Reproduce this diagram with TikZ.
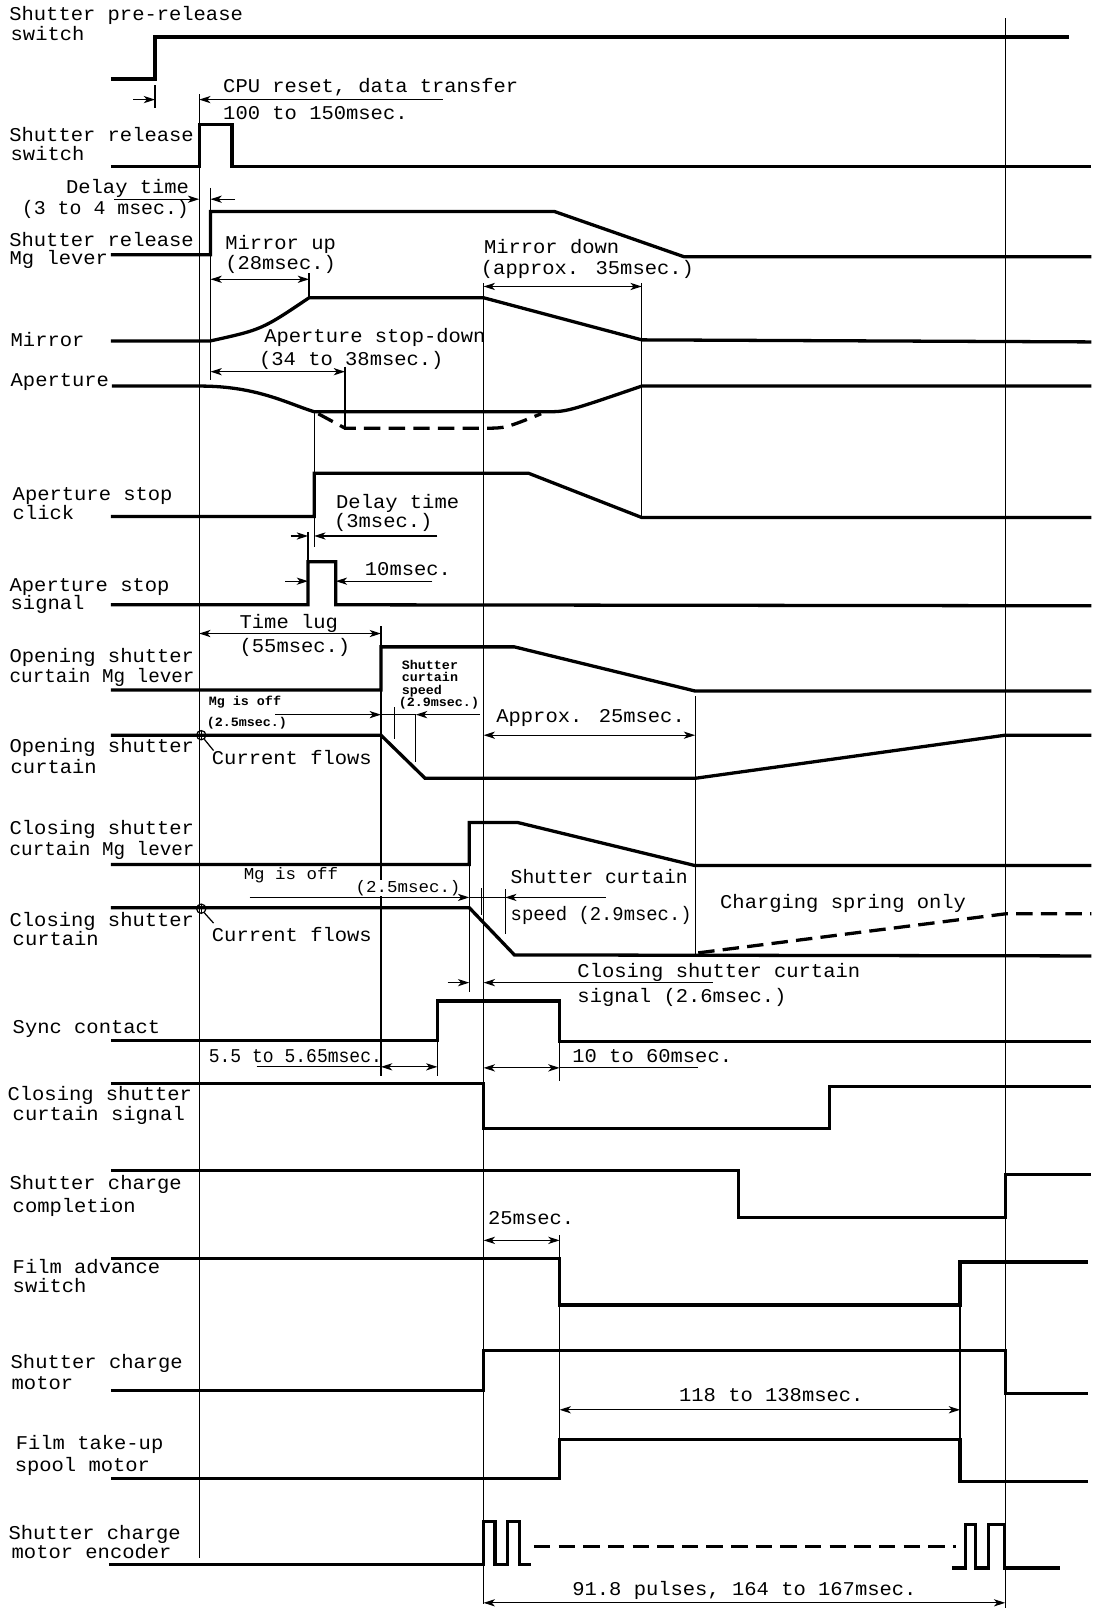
\documentclass[tikz,border=0pt]{standalone}
\usepackage{fontspec}
\setmainfont{Liberation Mono}[FakeStretch=1.05]
\usetikzlibrary{arrows.meta}
\tikzset{
  sig/.style={line width=1.6pt},
  dsig/.style={line width=1.6pt, dash pattern=on 8pt off 4pt},
  guide/.style={line width=0.6pt},
  ar/.style={line width=0.6pt, -{Stealth[length=5.5pt,width=3.5pt,inset=1.5pt]}},
  dar/.style={line width=0.6pt, {Stealth[length=5.5pt,width=3.5pt,inset=1.5pt]}-{Stealth[length=5.5pt,width=3.5pt,inset=1.5pt]}},
  lab/.style={inner sep=0pt, anchor=base west, font=\fontsize{9.5}{9.5}\selectfont},
  md/.style={inner sep=0pt, anchor=base west, fill=white, font=\fontsize{8.1}{8.1}\selectfont},
  sm/.style={inner sep=0pt, anchor=base west, font=\fontsize{6.2}{6.2}\selectfont\bfseries}
}
\newcommand\tl[4][lab]{\node[#1] (#2) at #3 {#4};}
\begin{document}
\begin{tikzpicture}[x=0.5pt,y=-0.5pt]
\fill[white] (0,0) rectangle (1074,1568);
\useasboundingbox (0,0) rectangle (1074,1568);

% ---------- guide lines ----------
\draw[guide] (194,92) -- (194,1517);
\draw[guide] (151,83) -- (151,105);
\draw[guide] (205,183) -- (205,370);
\draw[guide] (301,266) -- (301,290);
\draw[guide] (471,276) -- (471,1562);
\draw[guide] (625,276) -- (625,504);
\draw[guide] (979,18) -- (979,1566);
\draw[guide] (336,357) -- (336,419);
\draw[guide] (306,401) -- (306,533);
\draw[guide] (300,518) -- (300,547);
\draw[guide] (371,610) -- (371,1048);
\draw[guide] (384,689) -- (384,720);
\draw[guide] (405,696) -- (405,742);
\draw[guide] (677,678) -- (677,930);
\draw[guide] (457,842) -- (457,966);
\draw[guide] (469,865) -- (469,891);
\draw[guide] (492,866) -- (492,910);
\draw[guide] (426,1013) -- (426,1048);
\draw[guide] (545,1014) -- (545,1053);
\draw[guide] (545,1203) -- (545,1226);
\draw[guide] (545,1271) -- (545,1402);
\draw[guide] (935,1271) -- (935,1443);

% texts that interrupt guide lines
\tl[md]{m1a}{(237,857)}{Mg is off}
\tl[md]{m1b}{(346,869)}{(2.5msec.)}

% ---------- waveforms ----------
\draw[sig] (108,77) -- (151,77) -- (151,36) -- (1041,36);
\draw[sig] (108,162) -- (194,162) -- (194,121) -- (226,121) -- (226,162) -- (1063,162);
\draw[sig] (108,248) -- (205,248) -- (205,206) -- (540,206) -- (666,250) -- (1063,250);
\draw[sig] (108,332) -- (205,332) .. controls (255,321) .. (301,290) -- (471,290) -- (625,331) -- (1063,333);
\draw[sig] (109,376) -- (195,376) .. controls (250,376) and (280,393) .. (306,401) -- (532,401) .. controls (552,401) .. (625,376) -- (1063,376);
\draw[dsig] (310,403) -- (336,417) -- (473,417) .. controls (492,417) .. (527,403);
\draw[sig] (108,503) -- (306,503) -- (306,461) -- (515,461) -- (625,504) -- (1063,504);
\draw[sig] (108,589) -- (300,589) -- (300,547) -- (327,547) -- (327,589) -- (1063,590);
\draw[sig] (108,672) -- (371,672) -- (371,630) -- (501,630) -- (677,673) -- (1063,673);
\draw[sig] (108,716) -- (371,716) -- (414,758) -- (677,758) -- (979,716) -- (1063,716);
\draw[sig] (108,842) -- (457,842) -- (457,801) -- (504,801) -- (677,843) -- (1063,843);
\draw[sig] (108,884) -- (457,884) -- (501,930) -- (1063,931);
\draw[dsig] (680,928) -- (979,890) -- (1063,890);
\draw[sig] (108,1013) -- (426,1013) -- (426,975) -- (545,975) -- (545,1014) -- (1063,1014);
\draw[sig] (108,1055) -- (471,1055) -- (471,1099) -- (808,1099) -- (808,1058) -- (1063,1058);
\draw[sig] (108,1140) -- (719,1140) -- (719,1186) -- (979,1186) -- (979,1144) -- (1063,1144);
\draw[sig] (108,1226) -- (545,1226) -- (545,1271) -- (935,1271) -- (935,1229) -- (1060,1229);
\draw[sig] (108,1354) -- (471,1354) -- (471,1315) -- (979,1315) -- (979,1357) -- (1060,1357);
\draw[sig] (108,1440) -- (545,1440) -- (545,1402) -- (935,1402) -- (935,1443) -- (1060,1443);
\draw[sig] (106,1524) -- (471,1524) -- (471,1482) -- (482,1482) -- (482,1524) -- (494,1524) -- (494,1482) -- (506,1482) -- (506,1524) -- (517,1524);
\draw[dsig] (520,1506) -- (931,1506);
\draw[sig] (927,1527) -- (940,1527) -- (940,1485) -- (950,1485) -- (950,1527) -- (963,1527) -- (963,1485) -- (978,1485) -- (978,1527) -- (1032,1527);

% ---------- circles (current flows) ----------
\draw[guide] (196,716) circle[radius=4.5];
\draw[guide] (191.5,716) -- (200.5,716) (196,711.5) -- (196,720.5);
\draw[guide] (199,720) -- (208,731);
\draw[guide] (196,885) circle[radius=4.5];
\draw[guide] (191.5,885) -- (200.5,885) (196,880.5) -- (196,889.5);
\draw[guide] (199,889) -- (208,899);

% ---------- dimension arrows ----------
\draw[ar] (130,97) -- (151,97);
\draw[ar] (431,97) -- (194,97);
\draw[ar] (111,194) -- (194,194);
\draw[ar] (229,194) -- (205,194);
\draw[dar] (205,272) -- (301,272);
\draw[dar] (471,279) -- (625,279);
\draw[dar] (205,362) -- (336,362);
\draw[ar] (283,522) -- (300,522);
\draw[ar] (426,522) -- (306,522);
\draw[ar] (278,566) -- (300,566);
\draw[ar] (421,566) -- (327,566);
\draw[dar] (194,617) -- (371,617);
\draw[ar] (268,696) -- (371,696);
\draw[guide] (371,696) -- (405,696);
\draw[ar] (467,696) -- (405,696);
\draw[dar] (471,716) -- (677,716);
\draw[ar] (243,874) -- (457,874);
\draw[guide] (457,874) -- (492,874);
\draw[ar] (590,874) -- (492,874);
\draw[ar] (436,957) -- (457,957);
\draw[ar] (694,957) -- (471,957);
\draw[guide] (250,1039) -- (371,1039);
\draw[dar] (371,1039) -- (426,1039);
\draw[guide] (545,1040) -- (680,1040);
\draw[dar] (471,1040) -- (545,1040);
\draw[dar] (471,1208) -- (545,1208);
\draw[dar] (545,1373) -- (935,1373);
\draw[dar] (471,1561) -- (979,1561);

% ---------- labels ----------
\tl{l1a}{(8.7,20)}{Shutter pre-release}
\tl{l1b}{(10,39)}{switch}
\tl{a1a}{(217,90)}{CPU reset, data transfer}
\tl{a1b}{(217,116)}{100 to 150msec.}
\tl{l2a}{(8.7,138)}{Shutter release}
\tl{l2b}{(10,156)}{switch}
\tl{a2a}{(64,188)}{Delay time}
\tl{a2b}{(21,209)}{\scalebox{0.97}[1]{(3 to 4 msec.)}}
\tl{l3a}{(8.7,240)}{Shutter release}
\tl{l3b}{(9,258)}{Mg lever}
\tl{a3a}{(219,243)}{Mirror up}
\tl{a3b}{(219,262)}{(28msec.)}
\tl{a4a}{(471,247)}{Mirror down}
\tl{a4b}{(468,267)}{(approx. 35msec.)}
\tl{l4}{(10,337)}{Mirror}
\tl{a5a}{(257,334)}{Aperture stop-down}
\tl{a5b}{(252,356)}{(34 to 38msec.)}
\tl{l5}{(10,376)}{Aperture}
\tl{l6a}{(12,487)}{Aperture stop}
\tl{l6b}{(12,506)}{click}
\tl{a6a}{(327,495)}{Delay time}
\tl{a6b}{(325,514)}{(3msec.)}
\tl{a7}{(355,560)}{10msec.}
\tl{l7a}{(9,576)}{Aperture stop}
\tl{l7b}{(10,594)}{signal}
\tl{a8a}{(233,612)}{Time lug}
\tl{a8b}{(233,635)}{(55msec.)}
\tl{l8a}{(9,645)}{Opening shutter}
\tl{l8b}{(9,665)}{\scalebox{0.94}[1]{curtain Mg lever}}
\tl[sm]{s1a}{(391,652)}{Shutter}
\tl[sm]{s1b}{(391,664)}{curtain}
\tl[sm]{s1c}{(391,676)}{speed}
\tl[sm]{s1d}{(388,688)}{(2.9msec.)}
\tl[sm]{s2a}{(203,687)}{Mg is off}
\tl[sm]{s2b}{(201,708)}{(2.5msec.)}
\tl{a9}{(483,704)}{Approx. 25msec.}
\tl{l9a}{(9,733)}{Opening shutter}
\tl{l9b}{(10,753)}{curtain}
\tl{a10}{(206,745)}{Current flows}
\tl{l10a}{(9,813)}{Closing shutter}
\tl{l10b}{(9,833)}{\scalebox{0.94}[1]{curtain Mg lever}}
\tl{a11a}{(497,860)}{\scalebox{0.96}[1]{Shutter curtain}}
\tl{a11b}{(497,896)}{\scalebox{0.92}[1]{speed (2.9msec.)}}
\tl{a12}{(701,885)}{Charging spring only}
\tl{l11a}{(9,902)}{Closing shutter}
\tl{l11b}{(12,921)}{curtain}
\tl{a13}{(206,917)}{Current flows}
\tl{a14a}{(562,952)}{Closing shutter curtain}
\tl{a14b}{(562,976)}{signal (2.6msec.)}
\tl{l12}{(12,1007)}{Sync contact}
\tl{a15}{(203,1035)}{\scalebox{0.88}[1]{5.5 to 5.65msec.}}
\tl{a16}{(557,1035)}{10 to 60msec.}
\tl{l13a}{(7,1072)}{Closing shutter}
\tl{l13b}{(12,1091)}{curtain signal}
\tl{l14a}{(9,1158)}{Shutter charge}
\tl{l14b}{(12,1181)}{completion}
\tl{a17}{(475,1193)}{25msec.}
\tl{l15a}{(12,1240)}{Film advance}
\tl{l15b}{(12,1259)}{switch}
\tl{l16a}{(10,1333)}{Shutter charge}
\tl{l16b}{(11,1353)}{motor}
\tl{a18}{(661,1365)}{118 to 138msec.}
\tl{l17a}{(15,1412)}{Film take-up}
\tl{l17b}{(14,1433)}{spool motor}
\tl{l18a}{(8,1499)}{Shutter charge}
\tl{l18b}{(11,1518)}{motor encoder}
\tl{a19}{(557,1554)}{91.8 pulses, 164 to 167msec.}
\end{tikzpicture}
\end{document}
